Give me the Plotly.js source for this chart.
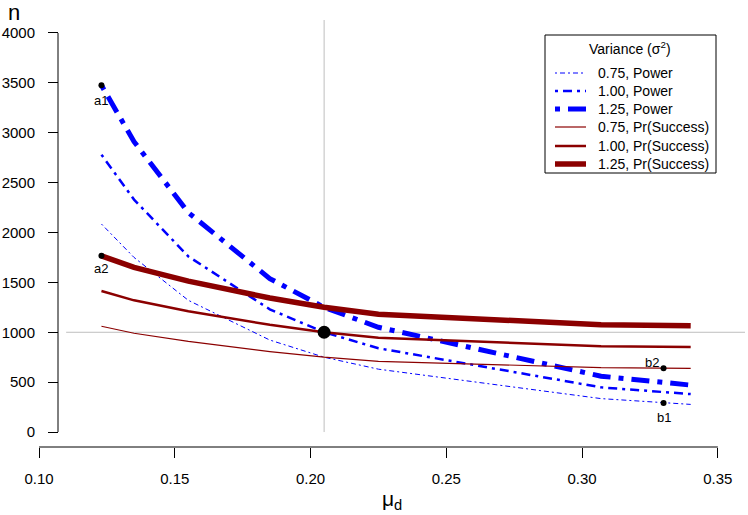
<!DOCTYPE html>
<html>
<head>
<meta charset="utf-8">
<script src="https://cdn.plot.ly/plotly-3.0.1.min.js"></script>
<style>body{margin:0;padding:0;background:#fff;}</style>
</head>
<body>
<div id="chart" style="width:748px;height:515px;"></div>
<script>
// mu_d grid
const muD = [0.123, 0.135, 0.155, 0.185, 0.205, 0.225, 0.307, 0.340];
// sample size n, power criterion
const power075 = [2085, 1750, 1320, 922, 750, 630, 335, 277];
const power100 = [2780, 2330, 1760, 1230, 1000, 840, 448, 380];
const power125 = [3475, 2910, 2200, 1538, 1250, 1050, 560, 470];
// sample size n, Pr(Success) criterion
const prs075 = [1060, 990, 908, 806, 750, 709, 645, 639];
const prs100 = [1413, 1320, 1210, 1075, 1000, 945, 860, 852];
const prs125 = [1766, 1650, 1512, 1344, 1250, 1181, 1075, 1065];
// labelled points
const ptLabels = ["a1", "a2", "b1", "b2"];
const ptX = [0.123, 0.123, 0.330, 0.330];
const ptY = [3475, 1766, 291, 640];
const centerX = [0.205];
const centerY = [1000];
// axis ticks
const xTicks = [0.10, 0.15, 0.20, 0.25, 0.30, 0.35];
const yTicks = [0, 500, 1000, 1500, 2000, 2500, 3000, 3500, 4000];
// legend
const legendTitle = "Variance (σ<sup>2</sup>)";
const seriesNames = ["0.75, Power", "1.00, Power", "1.25, Power",
                     "0.75, Pr(Success)", "1.00, Pr(Success)", "1.25, Pr(Success)"];

const FONT = "Liberation Sans, Arial, Helvetica, sans-serif";
const BLUE = "#0000FF";
const RED = "#8B0000";
const styles = [
  {color: BLUE, width: 1, dash: "2px,3px,5px,3px"},
  {color: BLUE, width: 2.5, dash: "3px,5px,9px,5px"},
  {color: BLUE, width: 5, dash: "5px,8px,18px,8px"},
  {color: RED, width: 1.2, dash: "solid"},
  {color: RED, width: 2.5, dash: "solid"},
  {color: RED, width: 5.5, dash: "solid"}
];
const seriesY = [power075, power100, power125, prs075, prs100, prs125];

const traces = seriesY.map((ys, i) => ({
  x: muD, y: ys, name: seriesNames[i], mode: "lines", showlegend: false,
  line: styles[i]
}));
traces.push({x: ptX, y: ptY, mode: "markers", showlegend: false, hoverinfo: "skip",
  marker: {color: "#000", size: 6}});
traces.push({x: centerX, y: centerY, mode: "markers", showlegend: false, hoverinfo: "skip",
  marker: {color: "#000", size: 13}});

// pixel -> paper helpers (plot area: x 39..745, y 20..447)
const L = 39, R = 745, T = 20, B = 447;
const px = v => (v - L) / (R - L);
const py = v => (B - v) / (B - T);

const ptShift = {a1: [0, -15], a2: [0, -13], b1: [0, -14], b2: [-12, 6]};
const annotations = ptLabels.map((t, i) => ({
  x: ptX[i], y: ptY[i], xref: "x", yref: "y", text: t, showarrow: false,
  xanchor: "center", yanchor: "middle",
  xshift: ptShift[t][0], yshift: ptShift[t][1],
  font: {family: FONT, size: 13, color: "#000"}
}));
annotations.push({xref: "paper", yref: "paper", x: px(14), y: py(13), text: "n",
  xanchor: "center", yanchor: "middle",
  showarrow: false, font: {family: FONT, size: 22, color: "#000"}});
annotations.push({xref: "paper", yref: "paper", x: px(392), y: py(500), text: "μ<sub>d</sub>",
  xanchor: "center", yanchor: "middle",
  showarrow: false, font: {family: FONT, size: 21, color: "#000"}});

const xMin = 0.10, xMax = 0.36;
const shapes = [
  // reference lines
  {type: "line", layer: "below", xref: "x", yref: "y", x0: 0.110, x1: xMax, y0: 1000, y1: 1000,
   line: {color: "#BEBEBE", width: 1}},
  {type: "line", layer: "below", xref: "x", yref: "y", x0: 0.205, x1: 0.205, y0: 0, y1: 4130,
   line: {color: "#BEBEBE", width: 1}},
  // R-style detached axis lines
  {type: "line", xref: "paper", yref: "paper", x0: 0, x1: (0.35 - xMin) / (xMax - xMin), y0: 0, y1: 0,
   line: {color: "#000", width: 1}},
  {type: "line", xref: "x", yref: "y", x0: 0.107, x1: 0.107, y0: 0, y1: 4000,
   line: {color: "#000", width: 1}},
  // legend box
  {type: "rect", xref: "paper", yref: "paper", x0: px(545), x1: px(716), y0: py(173), y1: py(35),
   fillcolor: "#fff", line: {color: "#000", width: 1}}
];

// legend entries
annotations.push({xref: "paper", yref: "paper", x: px(630), y: py(48), text: legendTitle,
  xanchor: "center", yanchor: "middle", showarrow: false,
  font: {family: FONT, size: 14, color: "#000"}});
const rowY = [73, 91, 109, 127, 146, 164];
seriesNames.forEach((nm, i) => {
  shapes.push({type: "line", xref: "paper", yref: "paper",
    x0: px(555), x1: px(586), y0: py(rowY[i]), y1: py(rowY[i]),
    line: styles[i]});
  annotations.push({xref: "paper", yref: "paper", x: px(596), y: py(rowY[i]), text: nm,
    xanchor: "left", yanchor: "middle", showarrow: false,
    font: {family: FONT, size: 14, color: "#000"}});
});

const layout = {
  width: 748, height: 515,
  margin: {l: L, r: 748 - R, t: T, b: 515 - B},
  paper_bgcolor: "#fff", plot_bgcolor: "#fff",
  font: {family: FONT, size: 15, color: "#000"},
  showlegend: false,
  xaxis: {
    range: [xMin, xMax], tickvals: xTicks, ticktext: xTicks.map(v => v.toFixed(2)),
    ticks: "outside", ticklen: 10, tickcolor: "#000", tickwidth: 1,
    ticklabelstandoff: 8,
    showgrid: false, zeroline: false, showline: false,
    tickfont: {family: FONT, size: 15}
  },
  yaxis: {
    range: [-150, 4130], anchor: "free", position: px(58),
    tickvals: yTicks, ticks: "outside", ticklen: 10, tickcolor: "#000", tickwidth: 1,
    ticklabelstandoff: 10,
    showgrid: false, zeroline: false, showline: false,
    tickfont: {family: FONT, size: 15}
  },
  shapes: shapes,
  annotations: annotations
};

Plotly.newPlot("chart", traces, layout, {displayModeBar: false, staticPlot: true});
</script>
</body>
</html>
